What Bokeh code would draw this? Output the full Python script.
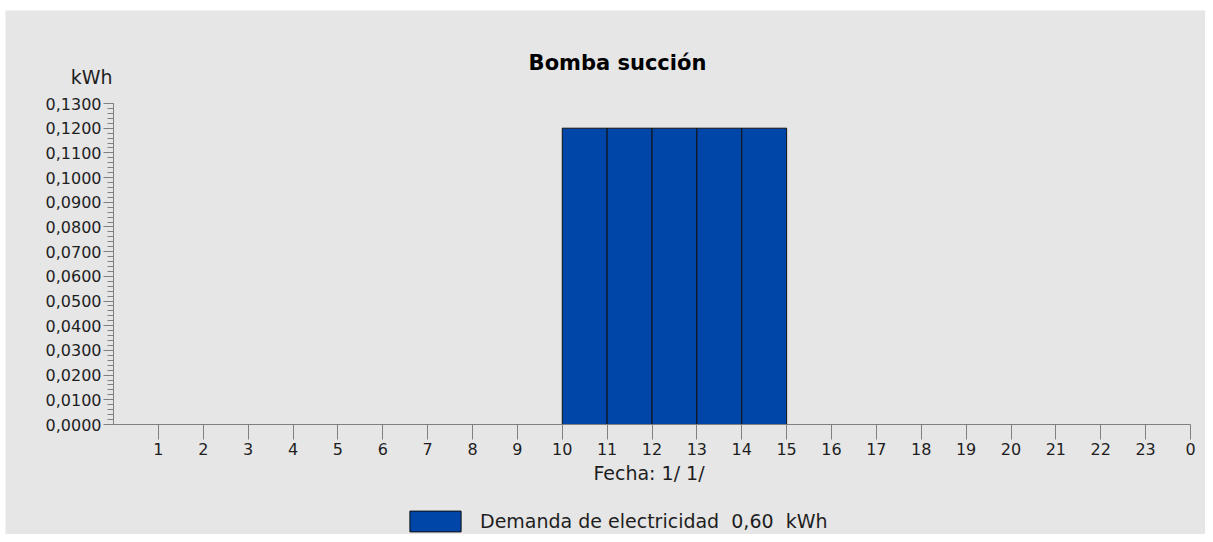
from bokeh.plotting import figure
from bokeh.models import (ColumnDataSource, Range1d, FixedTicker, CustomJSTickFormatter,
                          Label, Legend, LegendItem, LinearAxis)
from bokeh.embed import file_html
from bokeh.resources import INLINE

# ---- data ----
hour_start = list(range(24))                     # each bar covers [h, h+1]
demand_kwh = [0, 0, 0, 0, 0, 0, 0, 0, 0, 0,
              0.12, 0.12, 0.12, 0.12, 0.12,
              0, 0, 0, 0, 0, 0, 0, 0, 0]
x_tick_values = list(range(1, 25))
x_tick_labels = [str(v % 24) for v in x_tick_values]   # 1..23, 0
y_tick_values = [round(i * 0.01, 2) for i in range(14)]
y_minor_ticks = [round(i * 0.002, 3) for i in range(66)]
title_text = "Bomba succión"
y_unit = "kWh"
x_title = "Fecha:  1/ 1/"
series_name = "Demanda de electricidad"

BG = "#E6E6E6"
BLUE = "#0046A9"
AXIS = "#808080"
TXT = "#1E1E1E"
FONT = "DejaVu Sans"

# ---- layout (pixels) ----
W, H = 1205, 534
PAD_L, PAD_T = 5, 10            # white strip left / top
AX_X0, AX_X1 = 113, 1190        # x data 0 .. 24
AX_Y0, AX_Y1 = 424, 103         # y data 0 .. 0.13
XMAX, YMAX = 24, 0.13
ppx = (AX_X1 - AX_X0) / XMAX
ppy = (AX_Y0 - AX_Y1) / YMAX
x_start = -(AX_X0 - PAD_L) / ppx
x_end = XMAX + (W - AX_X1) / ppx
y_end = YMAX + (AX_Y1 - PAD_T) / ppy
y_start = -(H - AX_Y0) / ppy
TITLE_X = 617

p = figure(width=W, height=H, output_backend="svg", toolbar_location=None,
           x_range=Range1d(x_start, x_end), y_range=Range1d(y_start, y_end),
           x_axis_location=None, y_axis_location=None,
           min_border_left=PAD_L, min_border_right=0, min_border_top=PAD_T, min_border_bottom=0)
p.background_fill_color = BG
p.border_fill_color = "white"
p.outline_line_color = None
p.grid.visible = False

xs = [h + 0.5 for h, v in zip(hour_start, demand_kwh) if v > 0]
tops = [v for v in demand_kwh if v > 0]
src = ColumnDataSource(dict(x=xs, top=tops))
bars = p.vbar(x="x", top="top", width=1, bottom=0, source=src,
              fill_color=BLUE, line_color="#101010", line_width=1)

# x axis
xa = LinearAxis(fixed_location=0, bounds=(0, XMAX))
xa.ticker = FixedTicker(ticks=x_tick_values)
xa.major_label_overrides = {v: l for v, l in zip(x_tick_values, x_tick_labels)}
xa.axis_line_color = AXIS
xa.major_tick_line_color = AXIS
xa.major_tick_in = 0
xa.major_tick_out = 15
xa.minor_tick_line_color = None
xa.major_label_standoff = 3
xa.major_label_text_font = FONT
xa.major_label_text_font_size = "16px"
xa.major_label_text_color = TXT
p.add_layout(xa, "below")

# y axis
ya = LinearAxis(fixed_location=0, bounds=(0, YMAX))
ya.ticker = FixedTicker(ticks=y_tick_values, minor_ticks=y_minor_ticks)
ya.formatter = CustomJSTickFormatter(code="return tick.toFixed(4).replace('.', ',');")
ya.axis_line_color = AXIS
ya.major_tick_line_color = AXIS
ya.minor_tick_line_color = AXIS
ya.major_tick_in = 0
ya.major_tick_out = 10
ya.minor_tick_in = 0
ya.minor_tick_out = 6
ya.major_label_standoff = 2
ya.major_label_text_font = FONT
ya.major_label_text_font_size = "16px"
ya.major_label_text_color = TXT
p.add_layout(ya, "left")

# texts
p.add_layout(Label(x=0, y=YMAX, x_offset=TITLE_X - AX_X0, y_offset=AX_Y1 - 62,
                   text=title_text, text_align="center",
                   text_baseline="middle", text_font=FONT, text_font_size="21px",
                   text_font_style="bold", text_color="#000000"))
p.add_layout(Label(x=0, y=YMAX, x_offset=-1, y_offset=AX_Y1 - 76, text=y_unit,
                   text_align="right", text_baseline="middle", text_font=FONT,
                   text_font_size="19px", text_color=TXT))
p.add_layout(Label(x=XMAX / 2, y=0, y_offset=-(472 - AX_Y0),
                   text=x_title, text_align="center", text_baseline="middle",
                   text_font=FONT, text_font_size="19px", text_color=TXT))

total = sum(demand_kwh)
legend_label = f"{series_name}  {total:.2f}  {y_unit}".replace(".", ",")
legend = Legend(items=[LegendItem(label=legend_label, renderers=[bars])],
                location=(403 - PAD_L, 0), padding=0, margin=0, glyph_width=64,
                glyph_height=26, label_standoff=13, border_line_color=None,
                background_fill_alpha=0, label_text_font=FONT,
                label_text_font_size="19px", label_text_color=TXT)
p.add_layout(legend)

open("out.html", "w").write(file_html(p, INLINE))
